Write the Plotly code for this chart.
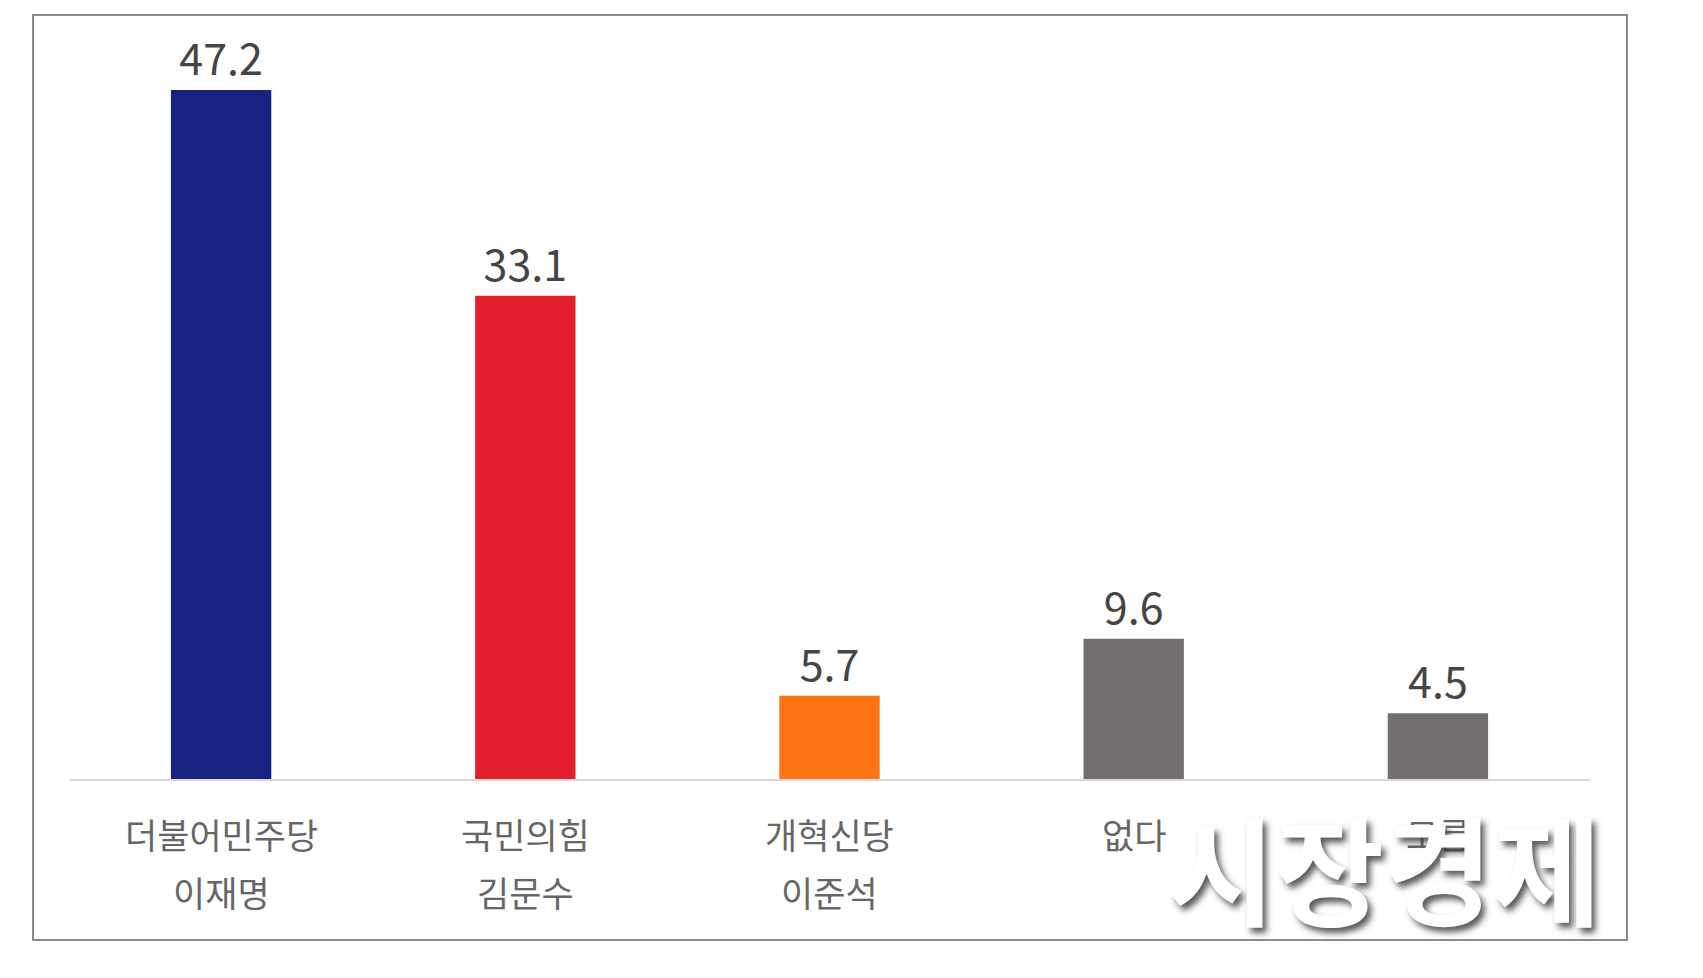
import plotly.graph_objects as go

categories = ["더불어민주당", "국민의힘", "개혁신당", "없다", "모름"]
candidates = ["이재명", "김문수", "이준석", "", ""]
values = [47.2, 33.1, 5.7, 9.6, 4.5]
value_labels = ["47.2", "33.1", "5.7", "9.6", "4.5"]
colors = ["#162380", "#E31E2C", "#FF7514", "#736F6E", "#736F6E"]
watermark = "시장경제"

W, H = 1703, 978
ml, mr, mt, mb = 61, 121, 41, 207
pw, ph = W - ml - mr, H - mt - mb

def px_x(px):
    return (px - ml) / pw

def px_y(py):
    return (H - mb - py) / ph

fig = go.Figure()
fig.add_trace(go.Bar(
    x=categories, y=values, marker_color=colors, marker_line_width=0,
    text=value_labels, textposition="outside", cliponaxis=False,
    textfont=dict(size=43, color="#454545", family="Noto Sans CJK KR"),
    hoverinfo="skip", width=0.33,
))

for cat, l2 in zip(categories, candidates):
    fig.add_annotation(x=cat, y=0, xref="x", yref="y", text=cat, showarrow=False,
                       yshift=-54, font=dict(size=35, color="#666666", family="Noto Sans CJK KR"))
    if l2:
        fig.add_annotation(x=cat, y=0, xref="x", yref="y", text=l2, showarrow=False,
                           yshift=-112, font=dict(size=35, color="#666666", family="Noto Sans CJK KR"))

fig.add_annotation(x=px_x(1376), y=px_y(857), xref="paper", yref="paper", text="<b>" + watermark + "</b>",
                   showarrow=False, xanchor="center", yanchor="middle",
                   font=dict(size=118, color="white", family="Noto Sans CJK KR",
                             shadow="4px 5px 6px rgba(60,60,60,0.85)"))

fig.add_shape(type="rect", xref="paper", yref="paper",
              x0=px_x(25), x1=px_x(1619), y0=px_y(932), y1=px_y(7),
              line=dict(color="#8a8a8a", width=2), fillcolor="rgba(0,0,0,0)", layer="below")

fig.update_layout(
    width=W, height=H, margin=dict(l=ml, r=mr, t=mt, b=mb),
    plot_bgcolor="white", paper_bgcolor="white", showlegend=False,
    xaxis=dict(showticklabels=False, showgrid=False, zeroline=False, showline=True,
               linecolor="#d9d9d9", linewidth=2, ticks="", range=[-0.5, 4.5]),
    yaxis=dict(visible=False, range=[0, 50]),
)

fig.write_html("out.html")
